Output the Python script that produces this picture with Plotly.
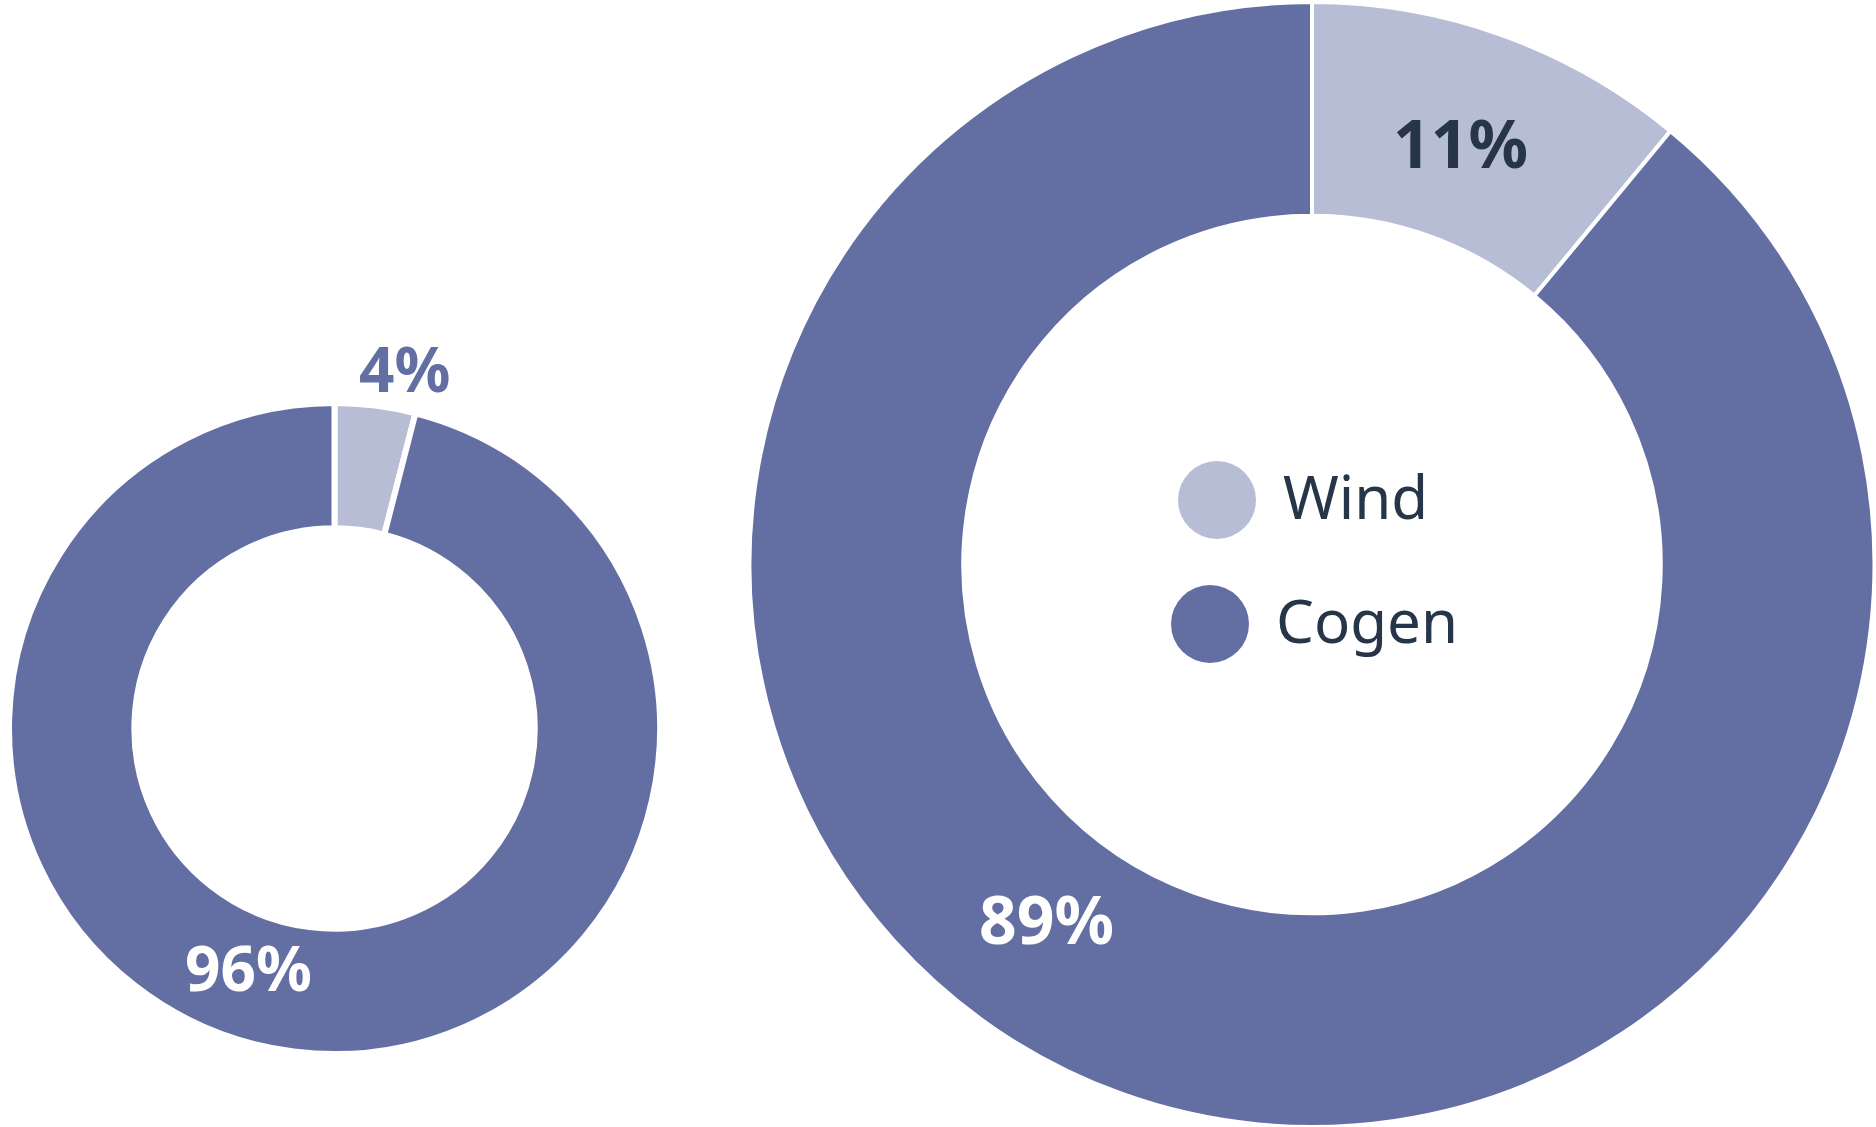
import plotly.graph_objects as go

W, H = 1876, 1127

# Energy mix shares (%) for the two sites
categories = ["Wind", "Cogen"]
small_values = [4, 96]
large_values = [11, 89]

WIND_COLOR = "#b8bdd6"
COGEN_COLOR = "#636fa3"
TEXT_DARK = "#263548"
FONT = "Noto Sans"


def px_x(x):
    return x / W


def px_y(y):
    return 1 - y / H


fig = go.Figure()

# Smaller ring (left)
fig.add_trace(go.Pie(
    labels=categories,
    values=small_values,
    hole=0.615,
    sort=False,
    direction="clockwise",
    rotation=0,
    textinfo="none",
    hoverinfo="skip",
    showlegend=False,
    marker=dict(colors=[WIND_COLOR, COGEN_COLOR], line=dict(color="white", width=6)),
    domain=dict(x=[px_x(9), px_x(660)], y=[px_y(1054), px_y(403)]),
))

# Larger ring (right)
fig.add_trace(go.Pie(
    labels=categories,
    values=large_values,
    hole=0.62,
    sort=False,
    direction="clockwise",
    rotation=0,
    textinfo="none",
    hoverinfo="skip",
    showlegend=False,
    marker=dict(colors=[WIND_COLOR, COGEN_COLOR], line=dict(color="white", width=4)),
    domain=dict(x=[px_x(749), px_x(1875)], y=[px_y(1127), px_y(2)]),
))

annotations = []

# Percentage labels
label_specs = [
    (small_values[0], 404, 368, COGEN_COLOR, 62),
    (small_values[1], 249, 967, "white", 62),
    (large_values[0], 1460, 142, TEXT_DARK, 66),
    (large_values[1], 1046, 918, "white", 66),
]
for val, x, y, color, size in label_specs:
    annotations.append(dict(
        text=f"<b>{val}%</b>", x=px_x(x), y=px_y(y), xref="paper", yref="paper",
        showarrow=False, xanchor="center", yanchor="middle",
        font=dict(family=FONT, size=size, color=color),
    ))

# Legend inside the large ring
legend_items = [
    (categories[0], WIND_COLOR, 1217, 500),
    (categories[1], COGEN_COLOR, 1210, 624),
]
shapes = []
for name, color, cx, cy in legend_items:
    r = 39
    shapes.append(dict(
        type="circle", xref="paper", yref="paper",
        x0=px_x(cx - r), x1=px_x(cx + r), y0=px_y(cy + r), y1=px_y(cy - r),
        fillcolor=color, line=dict(width=0),
    ))
    annotations.append(dict(
        text=name, x=px_x(cx + 64), y=px_y(cy - 4), xref="paper", yref="paper",
        showarrow=False, xanchor="left", yanchor="middle",
        font=dict(family=FONT, size=60, color=TEXT_DARK),
    ))

fig.update_layout(
    width=W, height=H,
    margin=dict(l=0, r=0, t=0, b=0),
    paper_bgcolor="white",
    plot_bgcolor="white",
    annotations=annotations,
    shapes=shapes,
)

fig.write_html("out.html")
